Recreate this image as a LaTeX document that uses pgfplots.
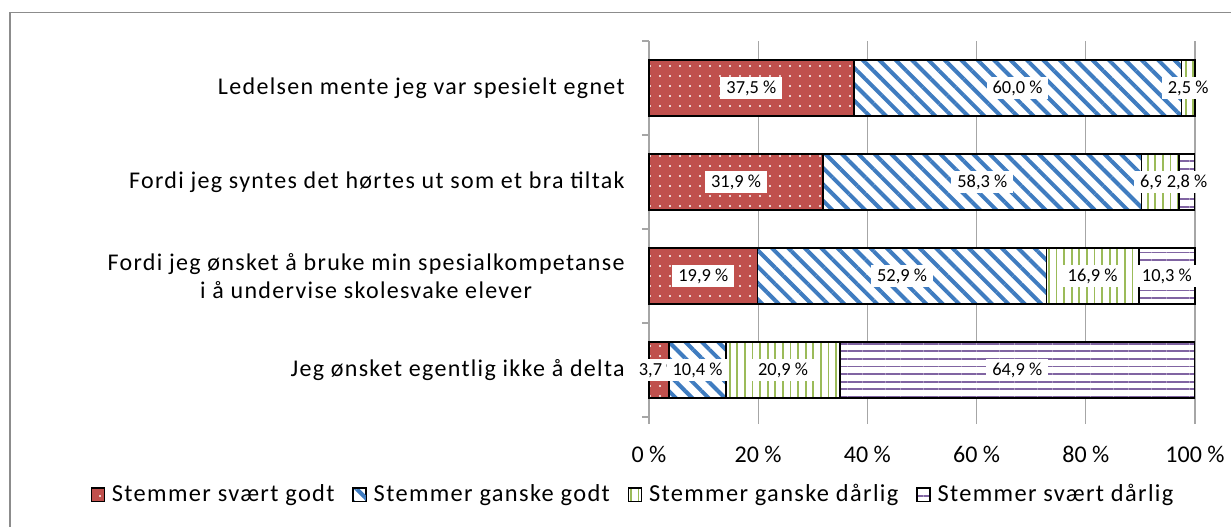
\documentclass[border=0pt]{standalone}
\usepackage{fontspec}
\setmainfont{Carlito}[LetterSpace=5.5]
\newfontfamily\lblfont{Carlito}
\usepackage{pgfplots}
\pgfplotsset{compat=1.18}
\usetikzlibrary{patterns.meta}

\definecolor{xred}{HTML}{C0504D}
\definecolor{xblue}{HTML}{3F7CC0}
\definecolor{xgreen}{HTML}{9BBB59}
\definecolor{xpurple}{HTML}{8064A2}
\definecolor{gridgray}{HTML}{A6A6A6}

\pgfplotsset{
    frame/.style={at={(0,0)}, anchor=south west, scale only axis,
        width=273pt, height=188pt, xmin=0, xmax=100, ymin=0.5, ymax=4.5},
    seglabel/.style={only marks, mark=none, point meta=explicit symbolic,
        nodes near coords,
        every node near coord/.append style={font=\lblfont\fontsize{9.2}{11}\selectfont,
            text=black, fill=white, anchor=center, inner xsep=3pt, inner ysep=1.8pt}},
}

\begin{document}
\begin{tikzpicture}
\useasboundingbox (-324.5pt,-54.5pt) rectangle (291pt,208.5pt);
\begin{axis}[
    frame,
    xbar stacked,
    bar width=28pt,
    axis lines*=left,
    x axis line style={draw=none},
    y axis line style={draw=gridgray, line width=0.6pt},
    xtick={0,20,...,100},
    xticklabels={0 \%,20 \%,40 \%,60 \%,80 \%,100 \%},
    xmajorgrids,
    grid style={gridgray, line width=0.6pt},
    tick align=outside,
    major tick length=3.5pt,
    tick style={draw=gridgray, line width=0.6pt},
    ytick={0.5,1.5,2.5,3.5,4.5},
    yticklabels={},
    extra y ticks={1,2,3,4},
    extra y tick labels={
        {Jeg ønsket egentlig ikke å delta},
        {Fordi jeg ønsket å bruke min spesialkompetanse\\i å undervise skolesvake elever},
        {Fordi jeg syntes det hørtes ut som et bra tiltak},
        {Ledelsen mente jeg var spesielt egnet}},
    extra y tick style={major tick length=0pt, tick style={draw=none}},
    yticklabel style={align=center, inner sep=0pt, xshift=-12pt,
        font=\fontsize{12}{14}\selectfont},
    xticklabel style={inner sep=0pt, yshift=-11pt,
        font=\lblfont\fontsize{12}{14}\selectfont},
    clip=false,
    legend columns=4,
    legend style={at={(-0.031,-0.207)}, anchor=center, draw=none, fill=none,
        font=\fontsize{12.2}{14}\selectfont,
        nodes={inner xsep=0pt},
        /tikz/every odd column/.append style={column sep=3.5pt},
        /tikz/every even column/.append style={column sep=9pt}},
    legend image code/.code={\draw[#1, line width=0.6pt] (0pt,-3.4pt) rectangle (6.5pt,3.4pt);},
]
\addplot[draw=black, line width=0.8pt, preaction={fill=xred},
    pattern={Dots[distance=5pt,radius=0.6pt]}, pattern color=white]
    coordinates {(3.7,1) (19.9,2) (31.9,3) (37.5,4)};
\addplot[draw=black, line width=0.8pt, preaction={fill=white},
    pattern={Lines[angle=-45,distance=5.8pt,line width=2pt]}, pattern color=xblue]
    coordinates {(10.4,1) (52.9,2) (58.3,3) (60.0,4)};
\addplot[draw=black, line width=0.8pt, preaction={fill=white},
    pattern={Lines[angle=90,distance=3.8pt,line width=0.9pt]}, pattern color=xgreen]
    coordinates {(20.9,1) (16.9,2) (6.9,3) (2.5,4)};
\addplot[draw=black, line width=0.8pt, preaction={fill=white},
    pattern={Lines[angle=0,distance=3.8pt,line width=0.9pt]}, pattern color=xpurple]
    coordinates {(64.9,1) (10.3,2) (2.8,3) (0,4)};
\legend{Stemmer svært godt, Stemmer ganske godt, Stemmer ganske dårlig, Stemmer svært dårlig}
\end{axis}
% data labels, at the middle of each segment
\begin{axis}[frame, hide axis, clip=false]
\addplot[seglabel] coordinates {(1.85,1) [3,7 \%] (9.95,2) [19,9 \%] (15.95,3) [31,9 \%] (18.75,4) [37,5 \%]};
\addplot[seglabel] coordinates {(8.9,1) [10,4 \%] (46.35,2) [52,9 \%] (61.05,3) [58,3 \%] (67.5,4) [60,0 \%]};
\addplot[seglabel] coordinates {(24.55,1) [20,9 \%] (81.25,2) [16,9 \%] (93.65,3) [6,9 \%] (98.75,4) [2,5 \%]};
\addplot[seglabel] coordinates {(67.45,1) [64,9 \%] (94.85,2) [10,3 \%] (98.55,3) [2,8 \%]};
\end{axis}
\draw[draw=black!45, line width=0.7pt] (-319.5pt,-100pt) rectangle (330pt,202.25pt);
\end{tikzpicture}
\end{document}
